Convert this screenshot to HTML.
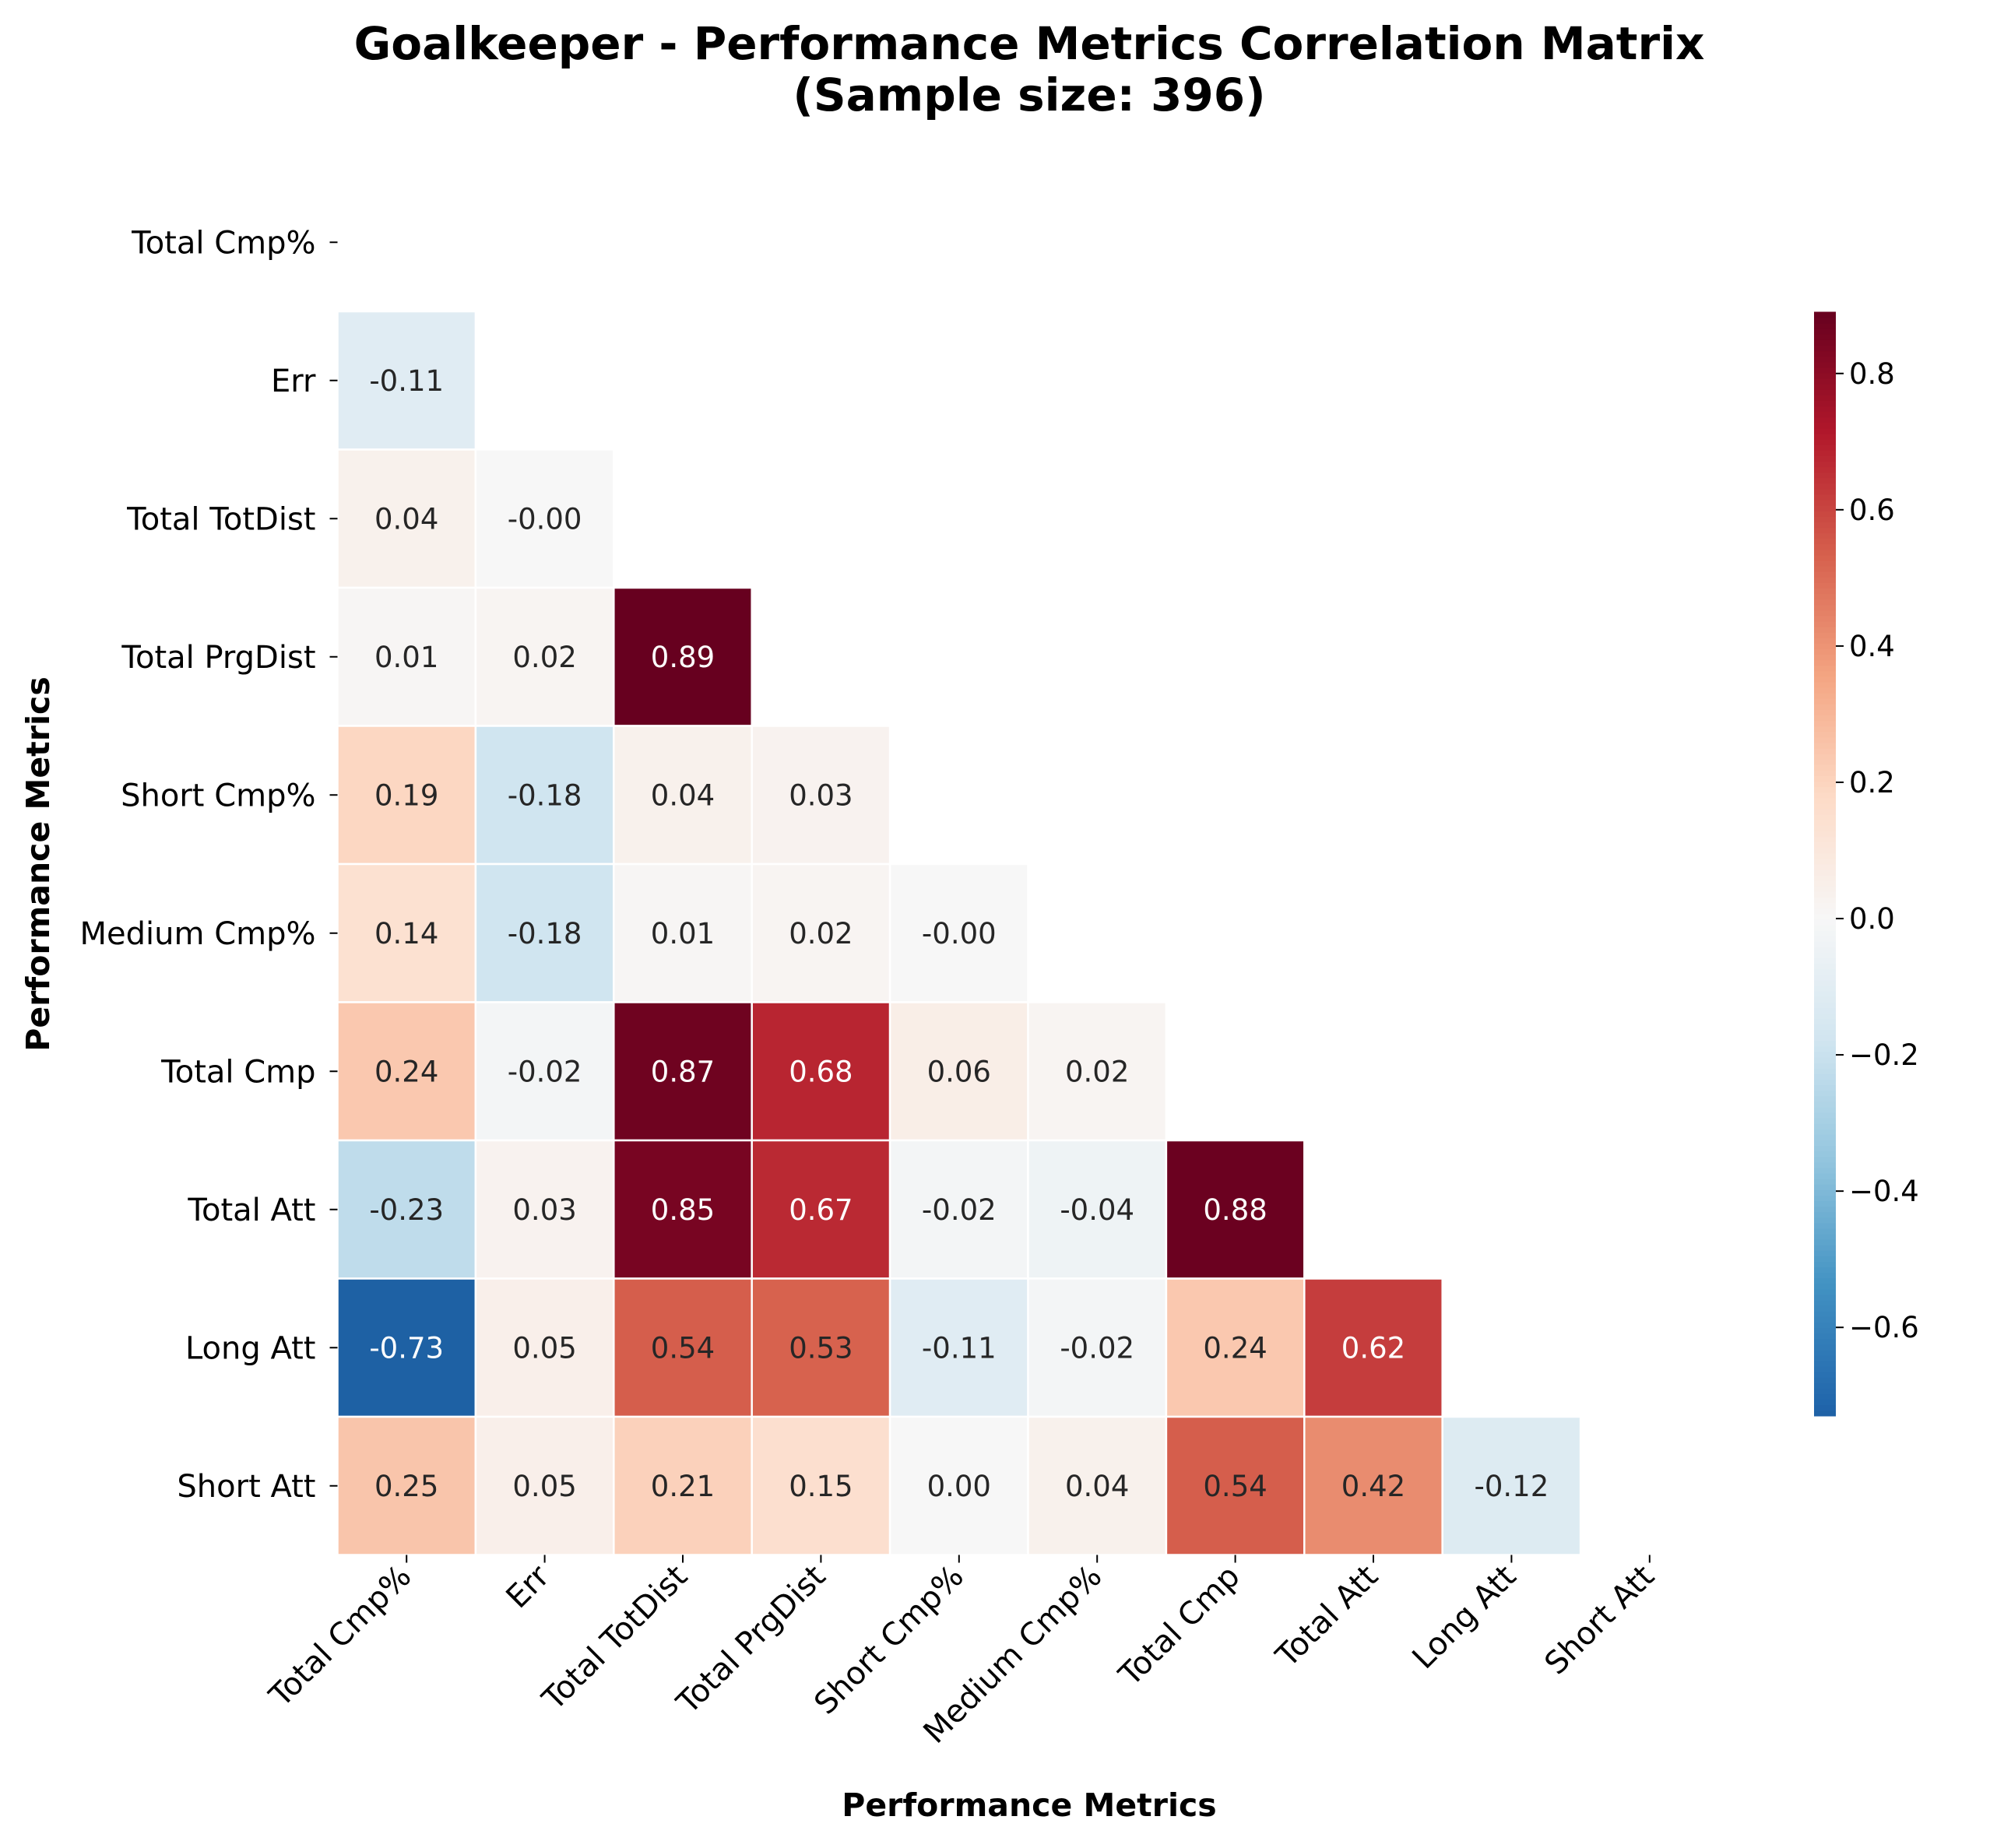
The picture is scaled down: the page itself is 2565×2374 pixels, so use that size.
<!DOCTYPE html>
<html><head><meta charset="utf-8"><style>
html,body{margin:0;padding:0;background:#fff;}
svg text{font-family:"DejaVu Sans","Liberation Sans",sans-serif;}
</style></head><body>
<svg id="chart" width="2565" height="2369" xmlns="http://www.w3.org/2000/svg">
<rect width="2565" height="2369" fill="#fff"/>
<text x="1322" y="76" text-anchor="middle" font-size="58" font-weight="bold">Goalkeeper - Performance Metrics Correlation Matrix</text>
<text x="1322" y="142" text-anchor="middle" font-size="58" font-weight="bold">(Sample size: 396)</text>
<g id="cells"></g><g id="axes"></g><g id="cbar"></g>
<text x="1322" y="2333" text-anchor="middle" font-size="41" font-weight="bold">Performance Metrics</text>
<text transform="translate(63,1110) rotate(-90)" text-anchor="middle" font-size="41" font-weight="bold">Performance Metrics</text>
</svg>
<script>
const labels = ["Total Cmp%","Err","Total TotDist","Total PrgDist","Short Cmp%","Medium Cmp%","Total Cmp","Total Att","Long Att","Short Att"];
const rowErr = [-0.11];
const rowTotDist = [0.04,-0.00];
const rowPrgDist = [0.01,0.02,0.89];
const rowShortCmpPct = [0.19,-0.18,0.04,0.03];
const rowMediumCmpPct = [0.14,-0.18,0.01,0.02,-0.00];
const rowTotalCmp = [0.24,-0.02,0.87,0.68,0.06,0.02];
const rowTotalAtt = [-0.23,0.03,0.85,0.67,-0.02,-0.04,0.88];
const rowLongAtt = [-0.73,0.05,0.54,0.53,-0.11,-0.02,0.24,0.62];
const rowShortAtt = [0.25,0.05,0.21,0.15,0.00,0.04,0.54,0.42,-0.12];
const cbarTicks = [-0.6,-0.4,-0.2,0.0,0.2,0.4,0.6,0.8];
const rows = [[],rowErr,rowTotDist,rowPrgDist,rowShortCmpPct,rowMediumCmpPct,rowTotalCmp,rowTotalAtt,rowLongAtt,rowShortAtt];

const NS="http://www.w3.org/2000/svg";
const L=433.5, T=222.5, CW=177.4, CH=177.5;
const FS=37, TFS=40;
const all=rows.flat(); const vmax=Math.max(...all.map(Math.abs)); const vmin=Math.min(...all); const vtop=Math.max(...all);
const stops=["#053061","#2166ac","#4393c3","#92c5de","#d1e5f0","#f7f7f7","#fddbc7","#f4a582","#d6604d","#b2182b","#67001f"].map(h=>[1,3,5].map(i=>parseInt(h.substr(i,2),16)));
function cmap(v){let t=(v+vmax)/(2*vmax);t=Math.max(0,Math.min(1,t))*10;const i=Math.min(9,Math.floor(t)),f=t-i;const c=stops[i].map((a,k)=>Math.round(a+(stops[i+1][k]-a)*f));return c;}
function rgb(c){return `rgb(${c[0]},${c[1]},${c[2]})`;}
function xs(j){return L+j*CW;} function ys(i){return T+i*CH;}
function mk(tag,attrs,parent){const e=document.createElementNS(NS,tag);for(const k in attrs)e.setAttribute(k,attrs[k]);parent.appendChild(e);return e;}
const cells=document.getElementById('cells'), axes=document.getElementById('axes'), cb=document.getElementById('cbar');
rows.forEach((r,i)=>r.forEach((v,j)=>{
  const c=cmap(v);
  const rc=mk('rect',{x:xs(j),y:ys(i),width:CW,height:CH,fill:rgb(c),stroke:'#fff','stroke-width':2.5},cells);
  
  
  const lum=(0.299*c[0]+0.587*c[1]+0.114*c[2]);
  const t=mk('text',{x:xs(j)+CW/2,y:ys(i)+CH/2+13,'text-anchor':'middle','font-size':FS,fill:lum<110?'#fff':'#262626'},cells);
  t.textContent=(Math.abs(v)<0.005&&Object.is(v,-0)?'-0.00':v.toFixed(2));
  
  
}));
labels.forEach((lb,k)=>{
  const cy=ys(k)+CH/2, cx=xs(k)+CW/2;
  mk('line',{x1:L-10,x2:L,y1:cy,y2:cy,stroke:'#000','stroke-width':2},axes);
  const ty=mk('text',{x:L-28,y:cy+14,'text-anchor':'end','font-size':TFS},axes);
  ty.textContent=lb;
  
  
  const yb=T+10*CH;
  mk('line',{x1:cx,x2:cx,y1:yb,y2:yb+10,stroke:'#000','stroke-width':2},axes);
  const tx=mk('text',{transform:`translate(${cx+8},${yb+30}) rotate(-45)`,'text-anchor':'end','font-size':TFS},axes);
  tx.textContent=lb;
  
  
});
const CX=2330, CWd=28, CT=401, CB=1819;
function cy(v){return CB-(v-vmin)/(vtop-vmin)*(CB-CT);}
const N=200;
for(let k=0;k<N;k++){const v0=vmin+(vtop-vmin)*k/N, v1=vmin+(vtop-vmin)*(k+1)/N;
  const r=mk('rect',{x:CX,y:cy(v1)-0.5,width:CWd,height:cy(v0)-cy(v1)+1,fill:rgb(cmap((v0+v1)/2))},cb);
  
  }
cbarTicks.forEach(v=>{const y=cy(v);
  mk('line',{x1:CX+CWd,x2:CX+CWd+10,y1:y,y2:y,stroke:'#000','stroke-width':2},cb);
  const t=mk('text',{x:CX+CWd+17,y:y+13,'font-size':FS},cb);
  t.textContent=(v<0?'\u2212':'')+Math.abs(v).toFixed(1);
  
  });
</script>
</body></html>
